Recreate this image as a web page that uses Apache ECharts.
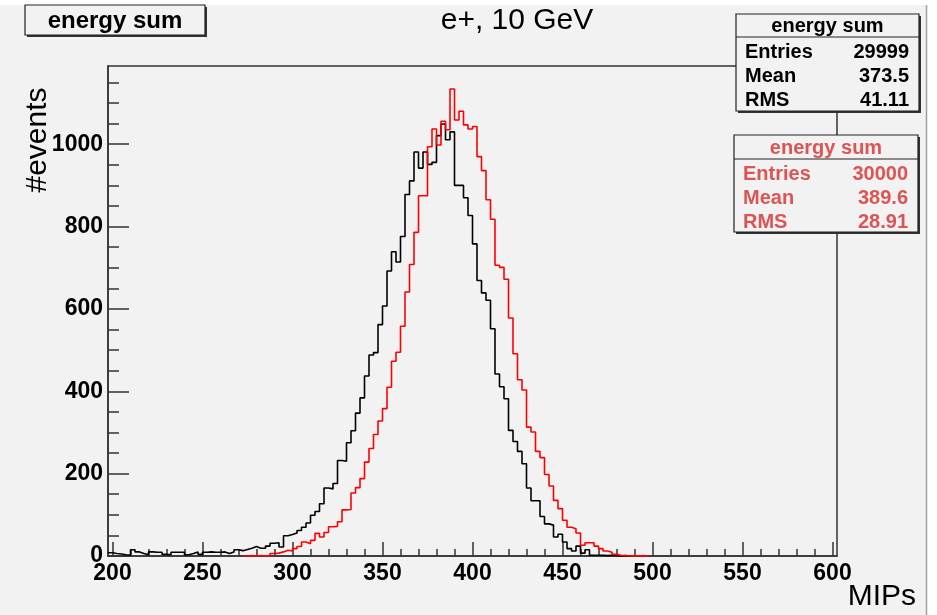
<!DOCTYPE html>
<html>
<head>
<meta charset="utf-8">
<script src="https://cdn.jsdelivr.net/npm/echarts@6/dist/echarts.min.js"></script>
<style>
  html, body { margin: 0; padding: 0; background: #ffffff; }
  #chart { width: 937px; height: 615px; }
</style>
</head>
<body>
<div id="chart"></div>
<script>
// ---- histogram binning (MIPs) ----
const binWidth = 2.5;
const blackStart = 197.5;   // low edge of first black bin
const redStart = 272.5;     // low edge of first red bin

// ---- counts per bin ----
const blackCounts = [8,6,5,3,2,15,10,6,3,10,9,9,4,3,9,9,9,3,6,10,4,9,10,9,9,10,6,10,15,13,16,19,23,19,19,24,31,32,22,
  49,52,56,62,70,80,99,108,127,165,163,176,232,230,275,304,347,384,437,488,494,562,607,692,739,714,776,878,911,981,942,
  981,951,956,1021,1049,1011,1030,900,900,870,827,758,669,639,621,552,442,411,382,305,278,254,224,165,134,134,96,78,75,
  46,53,34,18,12,24,7,15,2,2,2,1,2,1,0,1,0];
const redCounts = [0,1,0,1,0,1,6,7,10,14,12,18,23,34,30,38,55,46,57,71,72,83,112,113,153,166,188,228,261,295,328,358,
  410,473,495,558,641,708,786,875,875,994,1037,998,1056,1035,1134,1059,1080,1047,1037,1043,970,936,865,818,706,701,672,
  578,491,428,403,313,301,254,239,198,170,135,115,87,70,66,56,26,32,32,24,18,12,9,4,2,1,0,1,0,1,0];

// ---- axes ----
const xRange = [197.5, 602.5];
const yRange = [0, 1190];
const xMajorTicks = [200, 250, 300, 350, 400, 450, 500, 550, 600];
const xMinorTicks = [210,220,230,240,260,270,280,290,310,320,330,340,360,370,380,390,410,420,430,440,460,470,480,490,510,520,530,540,560,570,580,590];
const yMajorTicks = [0, 200, 400, 600, 800, 1000];
const yMinorTicks = [50,100,150,250,300,350,450,500,550,650,700,750,850,900,950,1050,1100,1150];

// ---- texts ----
const titleText = 'e+, 10 GeV';
const xTitle = 'MIPs';
const yTitle = '#events';
const histName = 'energy sum';
const statsBlack = [['Entries', '29999'], ['Mean', '373.5'], ['RMS', '41.11']];
const statsRed = [['Entries', '30000'], ['Mean', '389.6'], ['RMS', '28.91']];

function toSteps(start, counts) {
  const pts = counts.map((c, i) => [start + i * binWidth, c]);
  pts.push([start + counts.length * binWidth, 0]);
  return pts;
}

const FONT = '"Liberation Sans", Arial, Helvetica, sans-serif';
const BG = '#f2f2f2';
const FRAME = '#333333';
const RED_TEXT = '#dc5454';

function statsBox(x, y, w, h, headH, color, rows) {
  const els = [
    { type: 'rect', shape: { x: x + 2, y: y + 2, width: w, height: h }, style: { fill: '#333' }, z: 100 },
    { type: 'rect', shape: { x: x, y: y, width: w, height: h }, style: { fill: BG, stroke: '#222', lineWidth: 1.2 }, z: 101 },
    { type: 'line', shape: { x1: x, y1: y + headH, x2: x + w, y2: y + headH }, style: { stroke: '#222', lineWidth: 1.2 }, z: 102 },
    { type: 'text', x: x + w / 2, y: y + headH / 2 + 1, z: 103,
      style: { text: histName, fill: color, font: 'bold 20px ' + FONT, align: 'center', verticalAlign: 'middle' } }
  ];
  rows.forEach((r, i) => {
    const ry = y + headH + 15 + i * 24;
    els.push({ type: 'text', x: x + 9, y: ry, z: 103,
      style: { text: r[0], fill: color, font: 'bold 20px ' + FONT, align: 'left', verticalAlign: 'middle' } });
    els.push({ type: 'text', x: x + w - 10, y: ry, z: 103,
      style: { text: r[1], fill: color, font: 'bold 20px ' + FONT, align: 'right', verticalAlign: 'middle' } });
  });
  return els;
}

const chart = echarts.init(document.getElementById('chart'), null, { renderer: 'canvas' });

const plain = v => String(v);

const option = {
  animation: false,
  backgroundColor: '#ffffff',
  grid: { left: 108, right: 100, top: 66, bottom: 59, show: true, borderColor: FRAME, borderWidth: 1.5, backgroundColor: 'transparent' },
  xAxis: [
    {
      type: 'value', min: xRange[0], max: xRange[1], position: 'bottom',
      axisLine: { show: true, onZero: false, lineStyle: { color: FRAME, width: 1.5 } },
      axisTick: { show: true, inside: true, length: 14, customValues: xMajorTicks, lineStyle: { color: FRAME, width: 1.5 } },
      axisLabel: { show: true, customValues: xMajorTicks, formatter: plain, margin: 6, color: '#000', fontFamily: FONT, fontWeight: 'bold', fontSize: 23 },
      splitLine: { show: false }
    },
    {
      type: 'value', min: xRange[0], max: xRange[1], position: 'bottom',
      axisLine: { show: false },
      axisTick: { show: true, inside: true, length: 7, customValues: xMinorTicks, lineStyle: { color: FRAME, width: 1.5 } },
      axisLabel: { show: false },
      splitLine: { show: false }
    }
  ],
  yAxis: [
    {
      type: 'value', min: yRange[0], max: yRange[1], position: 'left',
      axisLine: { show: true, onZero: false, lineStyle: { color: FRAME, width: 1.5 } },
      axisTick: { show: true, inside: true, length: 21, customValues: yMajorTicks, lineStyle: { color: FRAME, width: 1.5 } },
      axisLabel: { show: true, customValues: yMajorTicks, formatter: plain, margin: 5, color: '#000', fontFamily: FONT, fontWeight: 'bold', fontSize: 23 },
      splitLine: { show: false }
    },
    {
      type: 'value', min: yRange[0], max: yRange[1], position: 'left',
      axisLine: { show: false },
      axisTick: { show: true, inside: true, length: 11, customValues: yMinorTicks, lineStyle: { color: FRAME, width: 1.5 } },
      axisLabel: { show: false },
      splitLine: { show: false }
    }
  ],
  series: [
    {
      type: 'line', name: 'black', xAxisIndex: 0, yAxisIndex: 0, step: 'end', symbol: 'none',
      data: toSteps(blackStart, blackCounts), clip: true,
      lineStyle: { color: '#000000', width: 1.6 }, z: 5
    },
    {
      type: 'line', name: 'red', xAxisIndex: 0, yAxisIndex: 0, step: 'end', symbol: 'none',
      data: toSteps(redStart, redCounts), clip: true,
      lineStyle: { color: '#ff0000', width: 1.6 }, z: 6
    }
  ],
  graphic: [
    { type: 'rect', shape: { x: 0, y: 5, width: 926, height: 610 }, style: { fill: BG }, z: -10, silent: true },
    { type: 'line', shape: { x1: 926.5, y1: 5, x2: 926.5, y2: 615 }, style: { stroke: '#a0a0a0', lineWidth: 1.5 }, z: -9 },
    // top-left title box
    { type: 'rect', shape: { x: 27, y: 7, width: 180, height: 30 }, style: { fill: '#333' }, z: 100 },
    { type: 'rect', shape: { x: 25, y: 5, width: 180, height: 30 }, style: { fill: BG, stroke: '#222', lineWidth: 1.2 }, z: 101 },
    { type: 'text', x: 115, y: 21, z: 103, style: { text: histName, fill: '#000', font: 'bold 24px ' + FONT, align: 'center', verticalAlign: 'middle' } },
    // title
    { type: 'text', x: 517, y: 21, z: 103, style: { text: titleText, fill: '#000', font: '30px ' + FONT, align: 'center', verticalAlign: 'middle' } },
    // axis titles
    { type: 'text', x: 916, y: 597, z: 103, style: { text: xTitle, fill: '#000', font: '30px ' + FONT, align: 'right', verticalAlign: 'middle' } },
    { type: 'text', x: 38, y: 140, rotation: Math.PI / 2, z: 103, style: { text: yTitle, fill: '#000', font: '30px ' + FONT, align: 'center', verticalAlign: 'middle' } },
    ...statsBox(736, 14, 183, 97, 23, '#000', statsBlack),
    ...statsBox(734, 135, 184, 97, 24, RED_TEXT, statsRed)
  ]
};

chart.setOption(option);
</script>
</body>
</html>
